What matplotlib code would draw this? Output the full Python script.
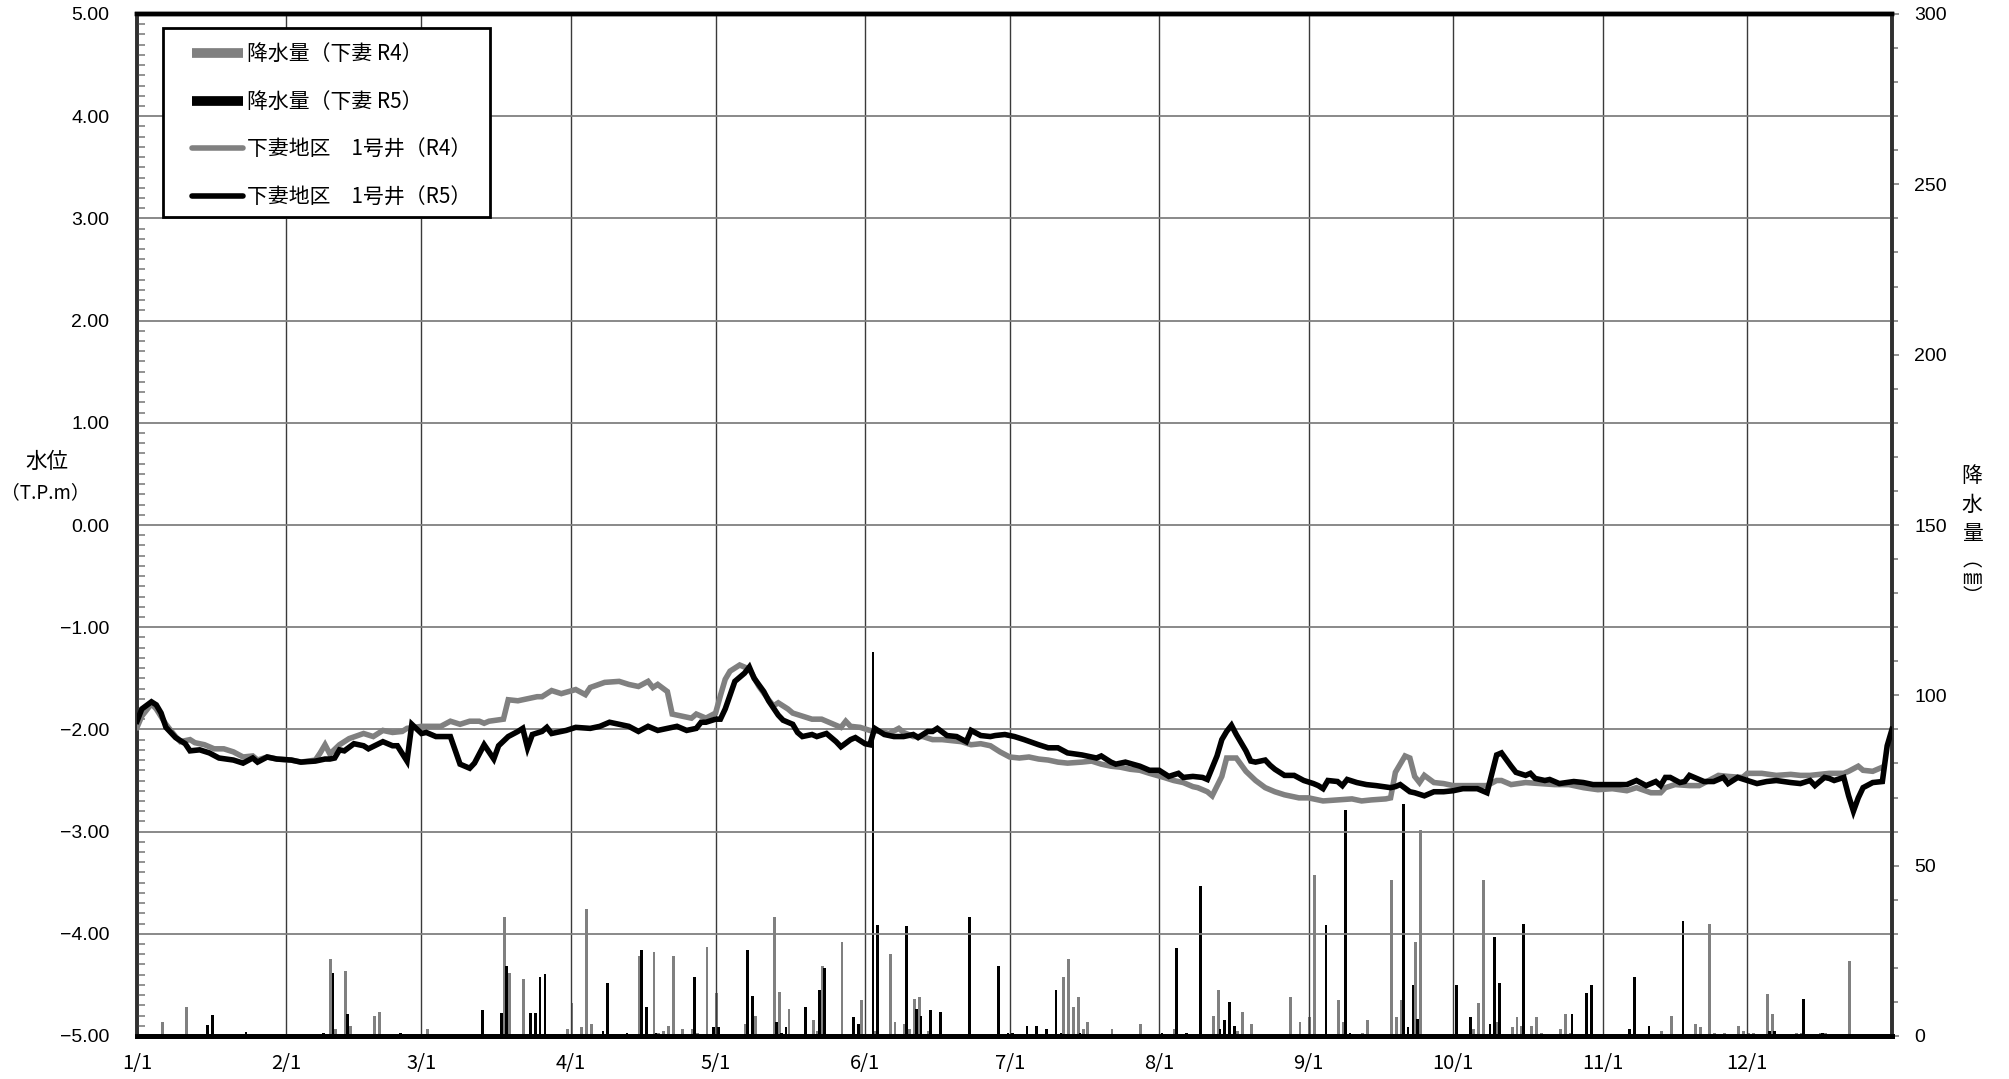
import matplotlib
matplotlib.use("Agg")
import matplotlib.pyplot as plt
from matplotlib.ticker import MultipleLocator, FixedLocator
from matplotlib.lines import Line2D
from matplotlib.patches import Rectangle

# ---------------- data ----------------
month_ticks = [0, 31, 59, 90, 120, 151, 181, 212, 243, 273, 304, 334]
month_labels = ["1/1", "2/1", "3/1", "4/1", "5/1", "6/1", "7/1", "8/1", "9/1", "10/1", "11/1", "12/1"]

# water level R5 (black)  day index from 1/1, level T.P.m
lv_r5_day = [0, 1, 3, 4, 5, 6, 8, 10, 11, 13, 15, 17, 20, 22, 24, 25, 27, 29, 32, 34, 37, 39, 40, 41, 42, 43,
             45, 47, 48, 51, 53, 54, 56, 57, 59, 60, 62, 63, 65, 67, 69, 70, 72, 74, 75, 77, 79, 80, 81, 82, 84,
             85, 86, 89, 91, 94, 96, 98, 100, 102, 104, 106, 108, 110, 112, 114, 116, 117, 118, 120, 121, 122,
             124, 126, 127, 128, 130, 131, 133, 134, 136, 137, 138, 140, 141, 143, 145, 146, 148, 149, 151, 152,
             153, 155, 157, 159, 161, 162, 164, 165, 166, 168, 170, 172, 173, 175, 177, 178, 180, 182, 184, 187,
             189, 191, 193, 196, 199, 200, 202, 203, 205, 208, 210, 212, 214, 216, 217, 219, 221, 222, 224, 225,
             226, 227, 228, 230, 231, 232, 234, 235, 236, 238, 240, 242, 244, 245, 246, 247, 249, 250, 251, 253,
             255, 257, 260, 261, 262, 264, 265, 267, 269, 271, 273, 275, 276, 278, 280, 282, 283, 285, 286, 288,
             289, 290, 292, 293, 295, 298, 300, 302, 304, 307, 309, 311, 313, 315, 316, 317, 318, 320, 321, 322,
             323, 325, 327, 329, 330, 332, 334, 336, 338, 340, 343, 345, 347, 348, 350, 351, 352, 354, 355, 356,
             357, 358, 360, 362, 363, 364]
lv_r5 = [-1.92, -1.80, -1.73, -1.76, -1.84, -1.98, -2.08, -2.14, -2.21, -2.20, -2.23, -2.28, -2.30, -2.33, -2.28,
         -2.32, -2.27, -2.29, -2.30, -2.32, -2.31, -2.29, -2.29, -2.28, -2.20, -2.21, -2.14, -2.16, -2.19, -2.12,
         -2.16, -2.16, -2.31, -1.95, -2.04, -2.03, -2.07, -2.07, -2.07, -2.34, -2.38, -2.33, -2.15, -2.29, -2.16,
         -2.07, -2.02, -1.99, -2.18, -2.05, -2.02, -1.98, -2.04, -2.01, -1.98, -1.99, -1.97, -1.93, -1.95, -1.97,
         -2.02, -1.97, -2.01, -1.99, -1.97, -2.01, -1.99, -1.93, -1.93, -1.90, -1.90, -1.80, -1.53, -1.45, -1.39,
         -1.50, -1.63, -1.72, -1.86, -1.91, -1.95, -2.03, -2.07, -2.05, -2.07, -2.04, -2.12, -2.17, -2.10, -2.08,
         -2.14, -2.15, -1.99, -2.05, -2.07, -2.07, -2.05, -2.08, -2.02, -2.02, -1.99, -2.06, -2.07, -2.12, -2.01,
         -2.06, -2.07, -2.06, -2.05, -2.07, -2.10, -2.15, -2.18, -2.18, -2.23, -2.25, -2.28, -2.26, -2.32, -2.34,
         -2.32, -2.36, -2.40, -2.40, -2.46, -2.43, -2.47, -2.46, -2.47, -2.49, -2.26, -2.10, -2.02, -1.96, -2.05,
         -2.21, -2.31, -2.32, -2.30, -2.35, -2.39, -2.45, -2.45, -2.50, -2.53, -2.55, -2.58, -2.50, -2.51, -2.55,
         -2.49, -2.52, -2.54, -2.55, -2.57, -2.56, -2.54, -2.61, -2.62, -2.65, -2.61, -2.61, -2.60, -2.58, -2.58,
         -2.58, -2.62, -2.25, -2.23, -2.36, -2.42, -2.45, -2.43, -2.48, -2.50, -2.49, -2.53, -2.51, -2.52, -2.54,
         -2.54, -2.54, -2.54, -2.50, -2.55, -2.51, -2.55, -2.47, -2.47, -2.52, -2.51, -2.45, -2.47, -2.51, -2.51,
         -2.47, -2.53, -2.47, -2.50, -2.53, -2.51, -2.50, -2.52, -2.53, -2.50, -2.55, -2.47, -2.48, -2.50, -2.47,
         -2.65, -2.80, -2.67, -2.57, -2.52, -2.51, -2.16, -2.00]

# water level R4 (gray)
lv_r4_day = [0, 1, 3, 4, 6, 8, 9, 11, 12, 14, 16, 18, 20, 22, 24, 25, 27, 29, 32, 34, 37, 38, 39, 40, 42, 44, 47,
             49, 51, 53, 55, 56, 59, 63, 65, 67, 69, 71, 72, 73, 76, 77, 79, 81, 83, 84, 86, 88, 91, 93, 94, 97,
             100, 102, 104, 106, 107, 108, 110, 111, 113, 115, 116, 118, 120, 121, 122, 123, 125, 127, 129, 131,
             132, 133, 135, 136, 138, 140, 142, 144, 146, 147, 148, 150, 152, 154, 156, 158, 159, 161, 163, 165,
             167, 169, 171, 173, 175, 177, 179, 181, 183, 185, 187, 189, 191, 193, 196, 198, 200, 202, 204, 206,
             208, 210, 213, 215, 217, 219, 220, 222, 223, 225, 226, 228, 230, 232, 234, 236, 238, 241, 243, 245,
             246, 249, 252, 254, 256, 259, 260, 261, 263, 264, 265, 266, 267, 269, 271, 273, 275, 278, 280, 282,
             283, 285, 288, 291, 294, 297, 300, 303, 306, 309, 311, 314, 316, 317, 319, 322, 324, 326, 328, 330,
             333, 334, 337, 340, 343, 345, 347, 351, 354, 355, 357, 358, 360, 362]
lv_r4 = [-1.98, -1.87, -1.75, -1.80, -1.95, -2.07, -2.12, -2.10, -2.13, -2.15, -2.19, -2.19, -2.22, -2.27, -2.26,
         -2.30, -2.27, -2.29, -2.30, -2.32, -2.30, -2.23, -2.15, -2.24, -2.15, -2.09, -2.04, -2.07, -2.01, -2.03,
         -2.02, -1.99, -1.97, -1.97, -1.92, -1.95, -1.92, -1.92, -1.94, -1.92, -1.90, -1.71, -1.72, -1.70, -1.68,
         -1.68, -1.62, -1.65, -1.61, -1.66, -1.59, -1.54, -1.53, -1.56, -1.58, -1.53, -1.59, -1.56, -1.63, -1.85,
         -1.87, -1.89, -1.85, -1.89, -1.84, -1.67, -1.51, -1.43, -1.37, -1.41, -1.58, -1.71, -1.77, -1.74, -1.80,
         -1.84, -1.87, -1.90, -1.90, -1.94, -1.98, -1.92, -1.97, -1.98, -2.01, -2.02, -2.04, -1.99, -2.03, -2.07,
         -2.07, -2.10, -2.10, -2.11, -2.12, -2.15, -2.14, -2.16, -2.22, -2.27, -2.28, -2.27, -2.29, -2.30, -2.32,
         -2.33, -2.32, -2.31, -2.34, -2.36, -2.37, -2.39, -2.40, -2.43, -2.47, -2.50, -2.52, -2.56, -2.57, -2.61,
         -2.65, -2.46, -2.28, -2.28, -2.41, -2.50, -2.57, -2.61, -2.64, -2.67, -2.67, -2.69, -2.70, -2.69, -2.68,
         -2.70, -2.69, -2.68, -2.67, -2.42, -2.26, -2.28, -2.46, -2.52, -2.45, -2.52, -2.53, -2.55, -2.55, -2.55,
         -2.55, -2.50, -2.50, -2.54, -2.52, -2.53, -2.54, -2.54, -2.57, -2.59, -2.58, -2.60, -2.57, -2.62, -2.62,
         -2.57, -2.54, -2.55, -2.55, -2.50, -2.45, -2.46, -2.47, -2.43, -2.43, -2.45, -2.44, -2.45, -2.45, -2.43,
         -2.43, -2.41, -2.36, -2.40, -2.41, -2.37]

# daily rainfall R4 (gray), mm
rain_r4_day = [5, 10, 40, 41, 43, 44, 49, 50, 60, 76, 77, 80, 85, 89, 90, 92, 93, 94, 103, 104, 107, 108, 109,
               110, 111, 112, 113, 115, 116, 118, 120, 126, 128, 129, 132, 133, 135, 140, 141, 142, 146, 150, 153,
               156, 157, 159, 160, 161, 162, 164, 192, 193, 194, 195, 196, 197, 202, 208, 215, 223, 224, 228, 229,
               231, 239, 241, 243, 244, 249, 250, 254, 255, 260, 261, 262, 265, 266, 277, 278, 279, 282, 285, 286,
               287, 289, 290, 291, 295, 296, 297, 316, 318, 323, 324, 326, 327, 329, 332, 333, 334, 335, 338, 339,
               344, 345, 349, 350, 355]
rain_r4 = [4.1, 8.5, 22.7, 2.0, 19.1, 3.0, 6.0, 7.0, 2.0, 34.8, 18.6, 16.7, 0.7, 2.0, 9.6, 2.5, 37.3, 3.5, 0.7,
           23.5, 24.6, 1.0, 1.5, 3.0, 23.5, 0.7, 2.0, 2.0, 1.0, 26.0, 12.6, 3.5, 6.0, 0.5, 34.8, 13.0, 8.0, 4.6,
           1.5, 20.6, 27.6, 10.5, 1.4, 24.1, 4.1, 3.5, 2.0, 11.0, 11.5, 1.5, 17.2, 22.6, 8.5, 11.5, 2.0, 4.1, 2.0,
           3.5, 2.0, 6.0, 13.6, 1.5, 7.0, 3.5, 11.5, 4.1, 5.6, 47.3, 10.5, 4.0, 1.0, 4.6, 45.8, 5.6, 10.5, 27.6,
           60.5, 2.0, 9.6, 45.8, 4.0, 2.5, 5.5, 3.0, 3.0, 5.5, 1.0, 2.0, 6.6, 1.0, 1.5, 6.0, 3.5, 2.5, 33.0, 1.0,
           1.0, 3.0, 1.5, 1.0, 1.0, 12.2, 6.6, 1.0, 1.0, 1.0, 1.0, 22.0]

# daily rainfall R5 (black), mm
rain_r5_day = [14, 15, 22, 38, 40, 43, 54, 64, 71, 75, 76, 81, 82, 83, 84, 86, 87, 88, 96, 97, 101, 104, 105, 107,
               115, 119, 120, 126, 127, 132, 133, 134, 138, 141, 142, 148, 149, 152, 153, 159, 161, 162, 164, 166,
               172, 178, 180, 181, 184, 186, 188, 190, 191, 195, 212, 215, 217, 220, 224, 225, 226, 227, 246, 250,
               251, 262, 263, 264, 265, 273, 276, 280, 281, 282, 287, 297, 300, 301, 309, 310, 313, 320, 338, 339,
               345, 349, 364]
rain_r5 = [3.1, 6.1, 1.2, 1.0, 18.6, 6.6, 1.0, 0.5, 7.6, 6.7, 20.6, 6.7, 6.7, 17.2, 18.1, 0.5, 0.5, 0.5, 1.5, 15.6,
           1.0, 25.1, 8.4, 1.0, 17.2, 2.5, 2.5, 25.1, 11.6, 4.1, 1.0, 2.5, 8.5, 13.6, 20.1, 5.5, 3.6, 112.8, 32.6,
           32.2, 8.0, 6.0, 7.5, 7.0, 34.8, 20.6, 1.0, 1.0, 3.0, 3.0, 2.0, 13.6, 1.0, 1.0, 1.0, 25.7, 1.0, 44.0, 2.0,
           4.6, 10.0, 3.0, 32.6, 66.2, 1.0, 68.0, 2.5, 15.1, 5.1, 15.1, 5.5, 3.5, 29.1, 15.6, 33.0, 6.6, 12.6, 15.1,
           2.0, 17.2, 3.0, 33.7, 1.5, 1.5, 11.0, 1.0, 4.3]

legend_labels = ["降水量（下妻 R4）", "降水量（下妻 R5）", "下妻地区\u30001号井（R4）", "下妻地区\u30001号井（R5）"]

# ---------------- style ----------------
GRAY = "#808080"
CJK = ["Noto Sans CJK JP", "DejaVu Sans"]
NUM = ["Liberation Sans", "DejaVu Sans"]
plt.rcParams["font.family"] = CJK
W, H = 2009, 1079

fig = plt.figure(figsize=(20.09, 10.79), dpi=100)
ax = fig.add_axes([137 / W, 1 - 1036 / H, 1755 / W, 1022 / H])   # water level (left)
ax2 = ax.twinx()                                                 # rainfall (right)
ax.set_zorder(2)
ax2.set_zorder(1)
ax.patch.set_visible(False)

# rainfall bars
ax2.bar([d + 0.22 for d in rain_r4_day], rain_r4, width=0.6, color=GRAY, linewidth=0, zorder=2)
ax2.bar([d + 0.62 for d in rain_r5_day], rain_r5, width=0.55, color="black", linewidth=0, zorder=3)
ax2.set_ylim(0, 300)
ax2.yaxis.set_major_locator(MultipleLocator(50))
ax2.yaxis.set_minor_locator(MultipleLocator(10))
ax2.tick_params(axis="y", which="major", direction="out", length=5, width=1.2, color=GRAY, pad=11,
                labelsize=14)
ax2.tick_params(axis="y", which="minor", direction="out", length=4, width=1.2, color=GRAY)
for lab in ax2.get_yticklabels():
    lab.set_family(NUM)

# water levels
ax.plot(lv_r4_day, lv_r4, color=GRAY, lw=4.0, solid_joinstyle="miter", zorder=4)
ax.plot(lv_r5_day, lv_r5, color="black", lw=4.0, solid_joinstyle="miter", zorder=5)
ax.set_ylim(-5, 5)
ax.set_xlim(0, 364)
yt = [-5, -4, -3, -2, -1, 0, 1, 2, 3, 4, 5]
ax.set_yticks(yt)
ax.set_yticklabels([("\u2212" if v < 0 else "") + f"{abs(v):.2f}" for v in yt])
ax.yaxis.set_minor_locator(MultipleLocator(0.1))
ax.tick_params(axis="y", which="major", direction="in", length=0, pad=20, labelsize=14)
ax.tick_params(axis="y", which="minor", direction="in", length=6, width=1.2, color=GRAY)
for lab in ax.get_yticklabels():
    lab.set_family(NUM)

ax.xaxis.set_major_locator(FixedLocator(month_ticks))
ax.set_xticklabels(month_labels)
ax.tick_params(axis="x", length=0, pad=12, labelsize=14.5)

ax.grid(True, axis="y", which="major", color=GRAY, lw=1.3)
ax.grid(True, axis="x", which="major", color="#3a3a3a", lw=1.0)

for a in (ax, ax2):
    a.spines["top"].set_linewidth(3.2)
    a.spines["top"].set_color("black")
    a.spines["bottom"].set_linewidth(3.5)
    a.spines["bottom"].set_color("black")
    a.spines["left"].set_linewidth(2.6)
    a.spines["left"].set_color("#303030")
    a.spines["right"].set_linewidth(2.6)
    a.spines["right"].set_color("#303030")

# axis titles
fig.text(47 / W, 1 - 462 / H, "水位", ha="center", va="center", fontsize=15.5, family=CJK)
fig.text(45 / W, 1 - 493 / H, "（T.P.m）", ha="center", va="center", fontsize=13.5, family=CJK)
fig.text(1972 / W, 1 - 465 / H, "降\n水\n量", ha="center", va="top", fontsize=15,
         family=CJK, linespacing=1.42)
fig.text(1972 / W, 1 - 550 / H, "︵\n㎜\n︶", ha="center", va="top", fontsize=14,
         family=CJK, linespacing=0.8)

# legend: frame drawn as a rectangle, entries placed inside it
frame = Rectangle((163 / W, 1 - 217 / H), 327 / W, 189 / H, transform=fig.transFigure,
                  facecolor="white", edgecolor="black", lw=2.0, zorder=9, clip_on=False)
ax.add_artist(frame)
handles = [Line2D([], [], color=GRAY, lw=7, solid_capstyle="butt"),
           Line2D([], [], color="black", lw=7, solid_capstyle="butt"),
           Line2D([], [], color=GRAY, lw=4.0, solid_capstyle="round"),
           Line2D([], [], color="black", lw=4.0, solid_capstyle="round")]
leg = ax.legend(handles, legend_labels, loc="upper left", bbox_to_anchor=(192 / W, 1 - 43 / H),
                bbox_transform=fig.transFigure, borderaxespad=0, frameon=False,
                prop={"family": CJK, "size": 15}, labelspacing=1.24, handlelength=2.45,
                handletextpad=0.2, borderpad=0)
leg.set_zorder(10)

fig.savefig("out.png", dpi=100, facecolor="white")
